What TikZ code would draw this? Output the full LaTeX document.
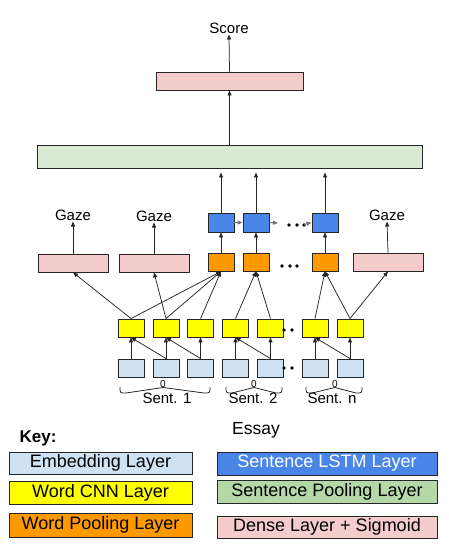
\documentclass[tikz,border=0pt]{standalone}
\usepackage{fontspec}
\setmainfont{Liberation Sans}
\usetikzlibrary{arrows.meta}
\definecolor{cemb}{HTML}{CFE2F3}
\definecolor{ccnn}{HTML}{FFFF00}
\definecolor{cwpool}{HTML}{FF9900}
\definecolor{clstm}{HTML}{4A86E8}
\definecolor{cspool}{HTML}{D9EAD3}
\definecolor{cspoolkey}{HTML}{B6D7A8}
\definecolor{cdense}{HTML}{F4CCCC}
\tikzset{
  box/.style={draw=black!85, line width=0.9pt, inner sep=0pt, minimum width=26pt, minimum height=18pt},
  embbox/.style={box, fill=cemb},
  cnnbox/.style={box, fill=ccnn},
  wpoolbox/.style={box, fill=cwpool},
  lstmbox/.style={box, fill=clstm, minimum height=19pt},
  densebox/.style={box, fill=cdense, minimum width=70pt},
  lbl/.style={inner sep=1pt, font=\fontsize{15}{17}\selectfont},
  arr/.style={draw=black!85, line width=0.75pt, -{Triangle[length=5pt,width=4pt]}},
  garr/.style={draw=black!55, line width=0.9pt, -{Triangle[length=5pt,width=4pt]}},
  dotc/.style={circle, fill=black, inner sep=0pt, minimum size=3.6pt},
  keybox/.style={draw=black!85, line width=0.9pt, inner sep=0pt, minimum height=22pt, font=\fontsize{18}{20}\selectfont},
  bracestyle/.style={draw=black!85, line width=0.8pt},
}
\begin{document}
\begin{tikzpicture}[x=1pt, y=-1pt]
\useasboundingbox (0,0) rectangle (448,546);

% top
\node[lbl] (score) at (229,28) {Score};
\node[box, fill=cdense, minimum width=147pt] (dense) at (229.5,81) {};
\node[box, fill=cspool, minimum width=385pt, minimum height=23pt] (spool) at (229.5,156.5) {};

% LSTM
\node[lstmbox] (l1) at (221,222.5) {};
\node[lstmbox] (l2) at (256,222.5) {};
\node[lstmbox] (l3) at (325,222.5) {};

% word pooling
\node[wpoolbox] (p1) at (221,262) {};
\node[wpoolbox] (p2) at (256,262) {};
\node[wpoolbox] (p3) at (325,262) {};

% gaze dense
\node[densebox] (g1) at (73,263) {};
\node[densebox] (g2) at (154,263) {};
\node[densebox] (g3) at (388,262) {};
\node[lbl] (t1) at (73,215) {Gaze};
\node[lbl] (t2) at (154,216) {Gaze};
\node[lbl] (t3) at (387,215) {Gaze};

% CNN and embeddings
\foreach \i/\x in {1/131,2/166,3/200.5,4/235.5,5/270.5,6/315,7/350}{
  \node[cnnbox] (c\i) at (\x,328) {};
  \node[embbox] (e\i) at (\x,368) {};
}

% dots
\node[dotc] (dc1) at (284,330) {};
\node[dotc] (dc2) at (292,330) {};
\node[dotc] (de1) at (284,368) {};
\node[dotc] (de2) at (292,368) {};
\node[dotc] (dp1) at (282,266) {};
\node[dotc] (dp2) at (290,266) {};
\node[dotc] (dp3) at (297,266) {};
\node[dotc] (dl1) at (289,225) {};
\node[dotc] (dl2) at (297,225) {};
\node[dotc] (dl3) at (304,225) {};

% arrows top
\draw[arr] (dense.north) -- (score.south);
\draw[arr] (spool.north -| dense.south) -- (dense.south);
\foreach \i in {1,2,3}{
  \draw[arr, shorten >=4pt] (l\i.north) -- (l\i.north |- spool.south);
  \draw[arr] (p\i.north) -- (l\i.south);
}
\coordinate (la) at (278,223);
\coordinate (lb) at (304,224.5);
\draw[garr] (l1.east) -- (l2.west);
\draw[garr] (l2.east) -- (la);
\draw[garr] (lb) -- (l3.west);

\foreach \i in {1,2,3}{
  \draw[arr] (g\i.north) -- (t\i.south);
}

% CNN to upper
\draw[arr] (c1.north) -- (g1.south);
\draw[arr] (c2.north) -- (g2.south);
\draw[arr] (c7.north) -- (g3.south);
\draw[arr] (c1.north) -- (p1.south);
\draw[arr] (c2.north) -- (p1.south);
\draw[arr] (c3.north) -- (p1.south);
\draw[arr] (c4.north) -- (p2.south);
\draw[arr] (c5.north) -- (p2.south);
\draw[arr] (c6.north) -- (p3.south);
\draw[arr] (c7.north) -- (p3.south);

% embeddings to CNN
\foreach \i in {1,...,7}{
  \draw[arr] (e\i.north) -- (c\i.south);
}
\draw[arr] (e2.north) -- (c1.south);
\draw[arr] (e3.north) -- (c2.south);
\draw[arr] (e5.north) -- (c4.south);
\draw[arr] (e7.north) -- (c6.south);

% braces
\foreach \a/\m/\b/\k in {120/163/210/1, 226/254/282/2, 306/335/362/3}{
  \draw[bracestyle] (\a,387) .. controls (\a,393) .. (\a+6,393) -- (\m,387.5) -- (\b-6,393) .. controls (\b,393) .. (\b,387);
  \node[inner sep=0pt, font=\fontsize{10}{10}\selectfont] (z\k) at (\m,384) {0};
}
\node[lbl] (s1) at (167,398) {Sent. 1};
\node[lbl] (s2) at (253,398) {Sent. 2};
\node[lbl] (s3) at (332,398) {Sent. n};
\node[inner sep=1pt, font=\fontsize{17.5}{20}\selectfont] (essay) at (256,430) {Essay};

% key
\node[inner sep=0pt, font=\fontsize{17}{20}\selectfont\bfseries] (key) at (38,438) {Key:};
\node[keybox, fill=cemb, minimum width=183pt] (k1) at (100.5,463) {Embedding Layer};
\node[keybox, fill=ccnn, minimum width=183pt, minimum height=23pt] (k2) at (100.5,492.5) {Word CNN Layer};
\node[keybox, fill=cwpool, minimum width=183pt, minimum height=24pt] (k3) at (100.5,525) {Word Pooling Layer};
\node[keybox, fill=clstm, text=white, minimum width=220pt, minimum height=23pt] (k4) at (327,463.5) {Sentence LSTM Layer};
\node[keybox, fill=cspoolkey, minimum width=220pt, minimum height=23pt] (k5) at (327,491.5) {Sentence Pooling Layer};
\node[keybox, fill=cdense, minimum width=220pt] (k6) at (327,527) {Dense Layer + Sigmoid};
\end{tikzpicture}
\end{document}
